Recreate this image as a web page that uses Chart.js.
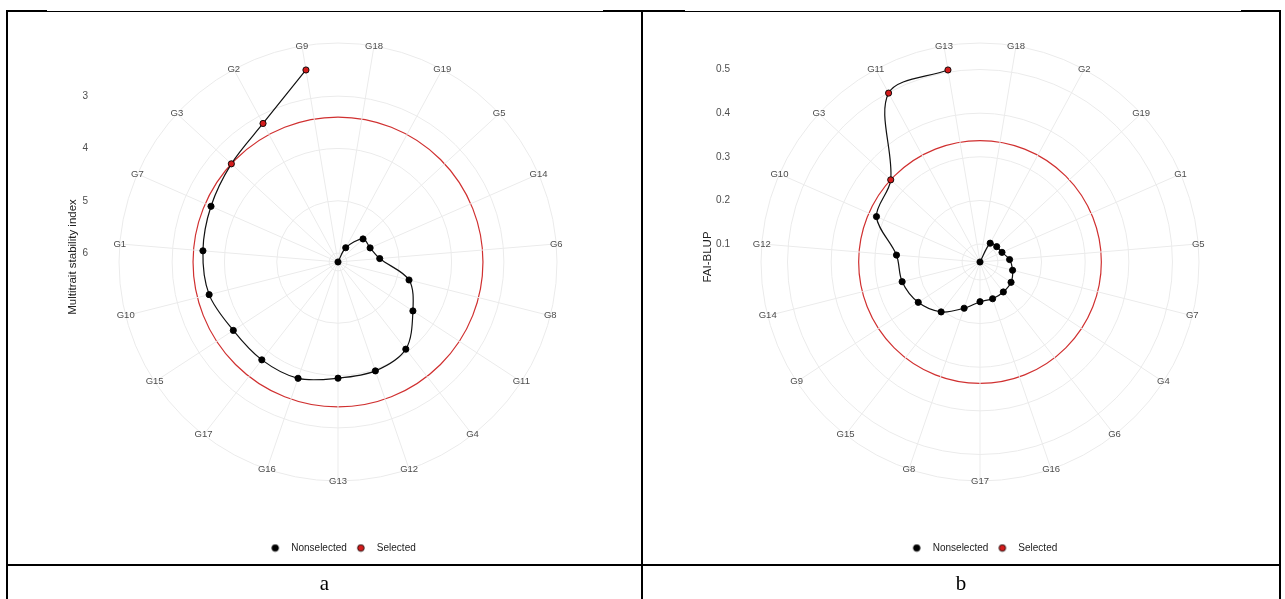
<!DOCTYPE html>
<html><head><meta charset="utf-8">
<script src="https://cdn.jsdelivr.net/npm/chart.js@4.4.1/dist/chart.umd.min.js"></script>
<style>
html,body{margin:0;padding:0;background:#fff;}
body{width:1285px;height:599px;position:relative;overflow:hidden;font-family:"Liberation Sans",Arial,sans-serif;}
.ln{position:absolute;background:#000;}
.cv{position:absolute;}
.cap{position:absolute;top:566px;height:34px;line-height:34px;text-align:center;font-family:"Liberation Serif","Times New Roman",serif;font-size:21px;color:#000;}
</style></head><body>
<div class="ln" style="left:6px;top:11px;width:1275px;height:1px"></div>
<div class="ln" style="left:6px;top:10px;width:41px;height:2px"></div>
<div class="ln" style="left:603px;top:10px;width:82px;height:2px"></div>
<div class="ln" style="left:1241px;top:10px;width:40px;height:2px"></div>
<div class="ln" style="left:6px;top:10px;width:2px;height:589px"></div>
<div class="ln" style="left:641px;top:10px;width:2px;height:589px"></div>
<div class="ln" style="left:1279px;top:10px;width:2px;height:589px"></div>
<div class="ln" style="left:6px;top:564px;width:1275px;height:2px"></div>
<canvas id="ca" class="cv" width="632" height="620" style="left:8px;top:-40px"></canvas>
<canvas id="cb" class="cv" width="634" height="620" style="left:644px;top:-40px"></canvas>
<div class="cap" id="capA" style="left:8px;width:633px"></div>
<div class="cap" id="capB" style="left:643px;width:636px"></div>
<script>
// ---------- data ----------
const genotypesA = ['G18','G19','G5','G14','G6','G8','G11','G4','G12','G13','G16','G17','G15','G10','G1','G7','G3','G2','G9'];
const mtsiA      = [6.17, 5.86, 5.52, 5.50, 5.37, 4.77, 4.46, 4.06, 3.97, 3.95, 3.82, 3.80, 3.78, 3.63, 3.58, 3.52, 3.40, 3.16, 2.45];
const selectedA  = ['G3','G2','G9'];
const cutoffA    = 3.40;
const tickValuesA = [3, 4, 5, 6];
const tickLabelsA = ['3', '4', '5', '6'];
const titleA = 'Multitrait stability index';

const genotypesB = ['G18','G2','G19','G1','G5','G7','G4','G6','G16','G17','G8','G15','G9','G14','G12','G10','G3','G11','G13'];
const faiB       = [0.059,0.108,0.111,0.114,0.127,0.136,0.144,0.146,0.148,0.150,0.171,0.204,0.228,0.243,0.251,0.318,0.337,0.499,0.505];
const selectedB  = ['G3','G11','G13'];
const cutoffB    = 0.337;
const tickValuesB = [0.1, 0.2, 0.3, 0.4, 0.5];
const tickLabelsB = ['0.1', '0.2', '0.3', '0.4', '0.5'];
const titleB = 'FAI-BLUP';

const legendLabels = ['Nonselected', 'Selected'];
const panelCaptions = ['a', 'b'];
document.getElementById('capA').textContent = panelCaptions[0];
document.getElementById('capB').textContent = panelCaptions[1];

// ---------- styling ----------
const FAMILY = '"Liberation Sans", Arial, sans-serif';
const BLACK = '#000000';
const RED = '#d41c1c';
const CUT_RED = '#d03030';
const GRID = '#ebebeb';
const LABEL_SIZE = 9.5;
Chart.defaults.font.family = FAMILY;

function dotImage(color) {
  const c = document.createElement('canvas');
  c.width = 22; c.height = 9;
  const g = c.getContext('2d');
  g.beginPath(); g.arc(5, 4.5, 3.3, 0, Math.PI * 2);
  g.fillStyle = color; g.fill();
  g.lineWidth = 0.8; g.strokeStyle = BLACK; g.stroke();
  return c;
}

// ggplot-like polar decorations: category labels centred on the outer circle,
// radial tick labels and axis title on the left of the panel
const polarDecor = {
  id: 'polarDecor',
  afterLayout(chart, args, o) {
    if (chart.legend) { chart.legend.left += o.legendShift; chart.legend.right += o.legendShift; }
  },
  afterDraw(chart, args, o) {
    const r = chart.scales.r, ctx = chart.ctx;
    const labels = chart.data.labels;
    ctx.save();
    ctx.font = LABEL_SIZE + 'px ' + FAMILY;
    ctx.fillStyle = '#4d4d4d';
    ctx.textAlign = 'center'; ctx.textBaseline = 'middle';
    labels.forEach((lab, i) => {
      const p = r.getPointPosition(i, r.drawingArea);
      ctx.fillText(lab, p.x, p.y);
    });
    ctx.font = '10px ' + FAMILY;
    ctx.textAlign = 'right';
    o.values.forEach((v, i) => {
      const y = r.yCenter - r.getDistanceFromCenterForValue(v);
      ctx.fillText(o.labels[i], o.tickX, y);
    });
    ctx.translate(o.titleX, r.yCenter + o.titleDy);
    ctx.rotate(-Math.PI / 2);
    ctx.textAlign = 'center';
    ctx.font = '11.5px ' + FAMILY;
    ctx.fillStyle = '#222';
    ctx.fillText(o.title, 0, 0);
    ctx.restore();
  }
};

function buildChart(id, cfg) {
  const labels = cfg.labels, values = cfg.values, N = labels.length;
  const START = 180 - 9 * 360 / N;
  const lo = Math.min(...values), hi = Math.max(...values);
  const ext = (hi - lo) * 0.125;
  const min = cfg.reverse ? lo - ext : lo;
  const max = cfg.reverse ? hi : hi + ext;
  const centerVal = cfg.reverse ? max : min;
  const outerVal = cfg.reverse ? min : max;
  const gridVals = [centerVal, ...cfg.tickValues, outerVal, cfg.cutoff];

  const chart = new Chart(document.getElementById(id), {
    type: 'radar',
    data: {
      labels: labels,
      datasets: [{
        data: [...values, null],
        borderColor: '#111',
        borderWidth: 1.2,
        backgroundColor: 'transparent',
        fill: false,
        tension: 0.33,
        pointRadius: 3.1,
        pointHoverRadius: 3.1,
        pointBorderWidth: 0.9,
        pointBorderColor: BLACK,
        pointBackgroundColor: labels.map(g => cfg.selected.includes(g) ? RED : BLACK)
      }]
    },
    options: {
      responsive: false,
      animation: false,
      events: [],
      layout: { padding: Object.assign({}, cfg.padding) },
      scales: {
        r: {
          min: min, max: max, reverse: cfg.reverse,
          startAngle: START,
          afterBuildTicks: s => { s.ticks = gridVals.map(v => ({ value: v })); },
          ticks: { display: false },
          grid: {
            circular: true,
            color: c => (c.tick && c.tick.value === cfg.cutoff) ? CUT_RED : GRID,
            lineWidth: c => (c.tick && c.tick.value === cfg.cutoff) ? 1.2 : 1
          },
          angleLines: { color: GRID, lineWidth: 1 },
          pointLabels: { display: false }
        }
      },
      plugins: {
        tooltip: { enabled: false },
        legend: {
          position: 'bottom',
          onClick: null,
          labels: {
            usePointStyle: true,
            boxWidth: 10, boxHeight: 5,
            padding: 15,
            color: '#222',
            font: { size: 10, family: FAMILY },
            generateLabels: () => legendLabels.map((t, i) => ({
              text: t, fillStyle: i ? RED : BLACK, strokeStyle: BLACK, lineWidth: 0,
              pointStyle: dotImage(i ? RED : BLACK), hidden: false, datasetIndex: 0, fontColor: '#222'
            }))
          }
        },
        polarDecor: {
          values: cfg.tickValues, labels: cfg.tickLabels, tickX: cfg.tickX,
          title: cfg.title, titleX: cfg.titleX, titleDy: -5, legendShift: cfg.legendShift
        }
      }
    },
    plugins: [polarDecor]
  });

  // fit chart so that radar centre / radius / legend line up with the panel layout
  for (let k = 0; k < 6; k++) {
    const r = chart.scales.r;
    const hb = chart.legend.legendHitBoxes[0];
    const legY = cfg.top + hb.top + hb.height / 2;
    const dL = legY - cfg.legendY;
    const dr = r.drawingArea - cfg.radius;
    const dx = cfg.left + r.xCenter - cfg.cx;
    const dy = cfg.top + r.yCenter - cfg.cy;
    if (Math.abs(dL) < 0.6 && Math.abs(dr) < 0.6 && Math.abs(dx) < 0.6 && Math.abs(dy) < 0.6) break;
    const p = Object.assign({}, chart.config.options.layout.padding);
    p.bottom += dL;
    p.top += -2 * dy + dL;
    p.left += dr - dx;
    p.right += dr + dx;
    chart.config.options.layout.padding = p;
    chart.update('none');
  }
  return chart;
}

buildChart('ca', {
  labels: genotypesA, values: mtsiA, selected: selectedA, cutoff: cutoffA, reverse: true,
  tickValues: tickValuesA, tickLabels: tickLabelsA, title: titleA,
  left: 8, top: -40, cx: 338, cy: 262, radius: 219, legendY: 548, legendShift: 8,
  tickX: 88 - 8, titleX: 73 - 8,
  padding: { left: 111, right: 75, top: 30, bottom: 10 }
});
buildChart('cb', {
  labels: genotypesB, values: faiB, selected: selectedB, cutoff: cutoffB, reverse: false,
  tickValues: tickValuesB, tickLabels: tickLabelsB, title: titleB,
  left: 644, top: -40, cx: 980, cy: 262, radius: 219, legendY: 548, legendShift: 7,
  tickX: 730 - 644, titleX: 708 - 644,
  padding: { left: 117, right: 78, top: 30, bottom: 10 }
});
</script>
</body></html>
